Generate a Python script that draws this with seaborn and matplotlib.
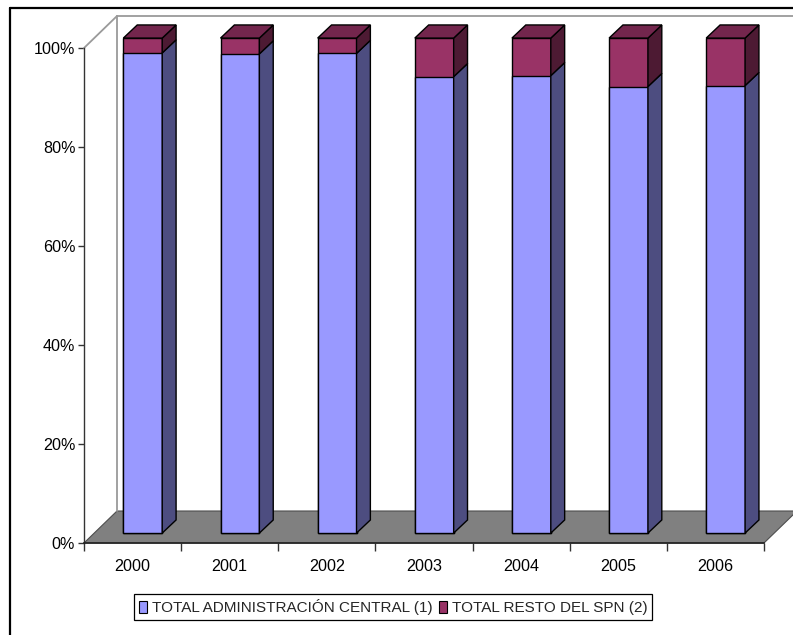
import matplotlib
matplotlib.use("Agg")
import matplotlib.pyplot as plt
from matplotlib.patches import Polygon, Patch
from matplotlib.lines import Line2D
from matplotlib.ticker import FuncFormatter
import numpy as np
import pandas as pd
import seaborn as sns

# Share of each component in the total (percent)
years = ["2000", "2001", "2002", "2003", "2004", "2005", "2006"]
admin_central = [97.0, 96.8, 96.9, 92.2, 92.4, 90.2, 90.4]
resto_spn = [3.0, 3.2, 3.1, 7.8, 7.6, 9.8, 9.6]
series_names = ["TOTAL ADMINISTRACIÓN CENTRAL (1)", "TOTAL RESTO DEL SPN (2)"]
y_ticks = [0, 20, 40, 60, 80, 100]

# Face colours: front, side, top
BLUE = ("#9999FF", "#4D4D80", "#7373BF")
WINE = ("#993366", "#4D1A33", "#73264D")

sns.set_theme(style="white")
plt.rcParams["font.family"] = ["Liberation Sans", "DejaVu Sans"]
plt.rcParams["font.size"] = 11

W, H = 793, 635
fig = plt.figure(figsize=(W / 100, H / 100), dpi=100)
fig.patch.set_facecolor("white")

# Front plane of the 3-D box
left_px, right_px, zero_px, full_px = 84, 764, 543, 48
ax = fig.add_axes([left_px / W, (H - zero_px) / H,
                   (right_px - left_px) / W, (zero_px - full_px) / H])

df = pd.DataFrame({
    "year": years,
    "admin": admin_central,
    "resto": resto_spn,
})
df["total"] = df["admin"] + df["resto"]

bar_w = 0.4
sns.barplot(data=df, x="year", y="total", color=WINE[0], width=bar_w,
            saturation=1, edgecolor="black", linewidth=1, ax=ax, zorder=3)
sns.barplot(data=df, x="year", y="admin", color=BLUE[0], width=bar_w,
            saturation=1, edgecolor="black", linewidth=1, ax=ax, zorder=3)

ax.set_xlim(-0.5, len(years) - 0.5)
ax.set_ylim(0, 100)

# depth of the box in data units
px_x = (right_px - left_px) / len(years)
px_y = (zero_px - full_px) / 100.0
DX, DY = 33 / px_x, 32 / px_y
# bars sit part-way into the box and have their own depth
OX, OY = 0.31 * DX, 0.31 * DY
BX, BY = 0.42 * DX, 0.41 * DY

x0, x1 = -0.5, len(years) - 0.5
# floor
ax.add_patch(Polygon([(x0, 0), (x1, 0), (x1 + DX, DY), (x0 + DX, DY)],
                     closed=True, facecolor="#808080", edgecolor="#4d4d4d",
                     linewidth=0.8, clip_on=False, zorder=1))
# walls
wall_kw = dict(color="#9a9a9a", linewidth=1.3, clip_on=False, zorder=1)
ax.add_line(Line2D([x0 + DX, x0 + DX], [DY, 100 + DY], **wall_kw))
ax.add_line(Line2D([x0 + DX, x1 + DX + 1], [100 + DY, 100 + DY], **wall_kw))
ax.add_line(Line2D([x0, x0 + DX], [100, 100 + DY], **wall_kw))

# shift the front faces into the box, then add sides and tops
for p in ax.patches[:]:
    if not isinstance(p, Polygon):
        p.set_x(p.get_x() + OX)
        p.set_y(p.get_y() + OY)
        p.set_clip_on(False)

for i in range(len(years)):
    xl = i - bar_w / 2 + OX
    xr = xl + bar_w
    segs = [(0, admin_central[i], BLUE), (admin_central[i], admin_central[i] + resto_spn[i], WINE)]
    for lo, hi, col in segs:
        y_lo, y_hi = lo + OY, hi + OY
        ax.add_patch(Polygon([(xr, y_lo), (xr + BX, y_lo + BY), (xr + BX, y_hi + BY), (xr, y_hi)],
                             closed=True, facecolor=col[1], edgecolor="black",
                             linewidth=1, clip_on=False, zorder=3))
    top = admin_central[i] + resto_spn[i] + OY
    ax.add_patch(Polygon([(xl, top), (xr, top), (xr + BX, top + BY), (xl + BX, top + BY)],
                         closed=True, facecolor=WINE[2], edgecolor="black",
                         linewidth=1, clip_on=False, zorder=3))

# axes styling
for s in ["top", "right"]:
    ax.spines[s].set_visible(False)
ax.spines["left"].set_color("#333333")
ax.spines["bottom"].set_color("#222222")
ax.spines["left"].set_linewidth(1)
ax.spines["bottom"].set_linewidth(1.2)
ax.set_facecolor("none")
ax.set_xlabel("")
ax.set_ylabel("")

ax.set_yticks(y_ticks)
ax.yaxis.set_major_formatter(FuncFormatter(lambda v, _: f"{v:.0f}%"))
ax.tick_params(axis="y", direction="out", length=4.3, width=1, color="#333333",
               pad=2, labelsize=11.6, labelcolor="black", left=True)
ax.set_xticks(range(len(years)))
ax.set_xticklabels(years)
ax.set_xticks(np.arange(len(years) + 1) - 0.5, minor=True)
ax.tick_params(axis="x", which="major", length=0, pad=11.5, labelsize=11.6, labelcolor="black")
ax.tick_params(axis="x", which="minor", direction="out", length=6, width=1,
               color="#333333", bottom=True)

# legend
handles = [Patch(facecolor=BLUE[0], edgecolor="black", linewidth=0.8),
           Patch(facecolor=WINE[0], edgecolor="black", linewidth=0.8)]
leg = fig.legend(handles, series_names, loc="center",
                 bbox_to_anchor=(393 / W, 1 - 607 / H), ncol=2, frameon=True,
                 fancybox=False, edgecolor="black", framealpha=1, fontsize=11,
                 handlelength=0.55, handleheight=0.8, handletextpad=0.3,
                 columnspacing=0.4, borderpad=0.3, borderaxespad=0)
leg.get_frame().set_linewidth(0.9)

# outer frame
fig.add_artist(Line2D([10 / W, 10 / W], [0, 1 - 8 / H], transform=fig.transFigure,
                      color="black", linewidth=1.6))
fig.add_artist(Line2D([10 / W, 1], [1 - 8 / H, 1 - 8 / H], transform=fig.transFigure,
                      color="black", linewidth=1.6))

fig.savefig("out.png", dpi=100)
